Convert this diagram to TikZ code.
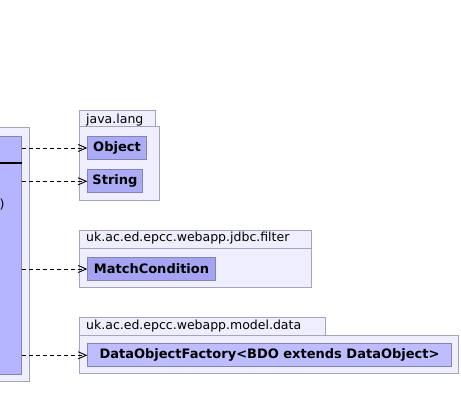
\documentclass[tikz,border=0pt]{standalone}
\usepackage{fontspec}
\setmainfont{DejaVu Sans}
\usetikzlibrary{arrows.meta,positioning}

\definecolor{pkgfill}{HTML}{EEEEFF}
\definecolor{pkgline}{HTML}{A4A4BC}
\definecolor{clsline}{HTML}{8484B0}
\definecolor{clsfill}{HTML}{B4B4FF}
\definecolor{usedfill}{HTML}{ACACF6}
\definecolor{condfill}{HTML}{A4A4F2}
\definecolor{factfill}{HTML}{BDBDFF}

\begin{document}
\begin{tikzpicture}[x=1pt, y=1pt,
		pkg/.style={draw=pkgline, fill=pkgfill, line width=1pt},
		pkgname/.style={anchor=base west, inner sep=0pt, font=\fontsize{12.5}{15}\selectfont},
		cls/.style={draw=clsline, fill=#1, line width=1pt, anchor=north west,
			inner sep=0pt, minimum height=23pt, font=\bfseries\fontsize{13}{15}\selectfont},
		dep/.style={dash pattern=on 4pt off 3pt, line width=0.9pt,
			-{Straight Barb[length=8pt, width=7pt, line width=0.9pt]}}]
	\useasboundingbox (0,0) rectangle (461,420);
	% package of the client class
	\draw[pkg] (-2,38) rectangle (29.5,292.3);
	\node[draw=clsline, fill=clsfill, line width=1pt, anchor=north east,
		minimum width=24pt, minimum height=238pt, inner sep=0pt] (client) at (21.5,284) {};
	\draw[line width=2pt] (client.west |- 0,257.3) -- (client.east |- 0,257.3);
	\node[anchor=base west, inner sep=0pt, font=\fontsize{12.6}{15}\selectfont] (rest) at (-0.6,211) {)};
	% java.lang
	\draw[pkg] (79.3,293.3) rectangle (155.3,309.7);
	\draw[pkg] (79.3,219.7) rectangle (159.7,293.3);
	\node[pkgname] (lang) at (86,296) {java.lang};
	\node[cls=usedfill, minimum width=58.4pt] (object) at (87.3,284) {Object};
	\node[cls=usedfill, minimum width=54.4pt] (string) at (87.3,250.7) {String};
	% jdbc.filter
	\draw[pkg] (79.3,171.3) rectangle (311.3,189.7);
	\draw[pkg] (79.3,132.7) rectangle (311.3,171.3);
	\node[pkgname] (filter) at (86,178) {uk.ac.ed.epcc.webapp.jdbc.filter};
	\node[cls=condfill, minimum width=127.4pt] (cond) at (87.3,163) {MatchCondition};
	% model.data
	\draw[pkg] (79.3,84.7) rectangle (325,102.7);
	\draw[pkg] (79.3,46.3) rectangle (458.7,84.7);
	\node[pkgname] (data) at (86,90) {uk.ac.ed.epcc.webapp.model.data};
	\node[cls=factfill, minimum width=363.4pt] (fact) at (87.3,76.7) {DataObjectFactory<BDO extends DataObject>};
	% dependencies
	\foreach \n in {object,string,cond,fact}
		\draw[dep] (client.east |- \n.west) -- (\n.west);
\end{tikzpicture}
\end{document}
